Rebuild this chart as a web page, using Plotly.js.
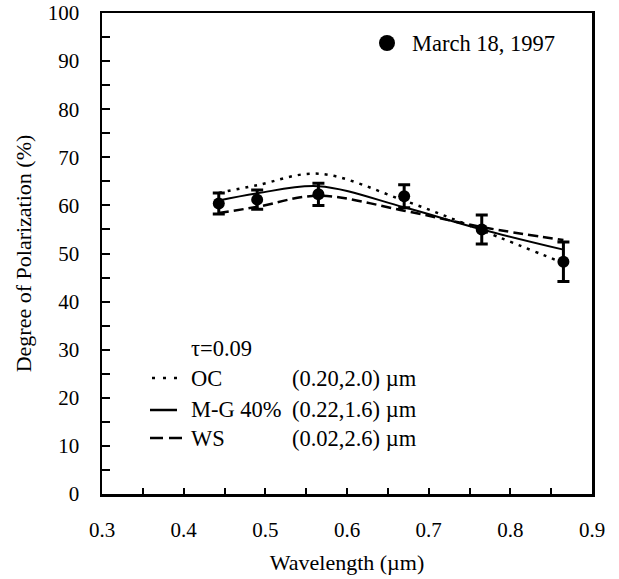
<!DOCTYPE html>
<html>
<head>
<meta charset="utf-8">
<script src="https://cdn.plot.ly/plotly-3.0.1.min.js"></script>
<style>html,body{margin:0;padding:0;background:#fff;}#chart{width:619px;height:579px;}</style>
</head>
<body>
<div id="chart"></div>
<script>
// Wavelengths (µm)
const wavelength = [0.443, 0.490, 0.565, 0.670, 0.765, 0.865];
// Measured degree of polarization (%) - March 18, 1997
const measured = [60.4, 61.2, 62.3, 61.9, 55.0, 48.3];
const measuredErr = [2.2, 2.0, 2.3, 2.4, 3.0, 4.1];
// Model curves (%)
const modelOC = [62.6, 64.2, 66.6, 61.0, 54.8, 48.0];
const modelMG = [61.0, 62.5, 64.0, 59.6, 55.0, 50.8];
const modelWS = [58.4, 59.7, 62.0, 58.9, 55.5, 52.8];
const xTicks = [0.3, 0.4, 0.5, 0.6, 0.7, 0.8, 0.9];
const yTicks = [0, 10, 20, 30, 40, 50, 60, 70, 80, 90, 100];

const FONT = "Liberation Serif";
const L = 102, R = 592, T = 13, B = 494;
const px = x => (x - L) / (R - L);
const py = y => (B - y) / (B - T);

const traces = [
  {x: wavelength, y: modelOC, mode: 'lines', line: {color: '#000', width: 2.5, dash: '3px,6px', shape: 'spline', smoothing: 1}},
  {x: wavelength, y: modelMG, mode: 'lines', line: {color: '#000', width: 2, shape: 'spline', smoothing: 1}},
  {x: wavelength, y: modelWS, mode: 'lines', line: {color: '#000', width: 2.5, dash: '10px,5px', shape: 'spline', smoothing: 1}},
  {x: wavelength, y: measured, mode: 'markers', marker: {color: '#000', size: 12},
   error_y: {type: 'data', array: measuredErr, visible: true, color: '#000', thickness: 3, width: 6}}
];

const textFont = {family: FONT, size: 22.5, color: '#000'};
function ann(text, x, y) {
  return {text: text, xref: 'paper', yref: 'paper', x: px(x), y: py(y), xanchor: 'left', yanchor: 'middle', showarrow: false, font: textFont};
}
const annotations = [
  ann('March 18, 1997', 410, 44),
  ann('τ=0.09', 189, 348),
  ann('OC', 189, 379),
  ann('(0.20,2.0) µm', 290, 379),
  ann('M-G 40%', 189, 409),
  ann('(0.22,1.6) µm', 290, 409),
  ann('WS', 189, 438),
  ann('(0.02,2.6) µm', 290, 438)
];
const shapes = [
  {type: 'circle', xref: 'paper', yref: 'paper', xsizemode: 'pixel', ysizemode: 'pixel',
   xanchor: px(387), yanchor: py(43), x0: -8, x1: 8, y0: -8, y1: 8, fillcolor: '#000', line: {width: 0}},
  {type: 'line', xref: 'paper', yref: 'paper', x0: px(152), x1: px(178), y0: py(378), y1: py(378), line: {color: '#000', width: 2.5, dash: '3px,8px'}},
  {type: 'line', xref: 'paper', yref: 'paper', x0: px(150), x1: px(177), y0: py(410), y1: py(410), line: {color: '#000', width: 2.5}},
  {type: 'line', xref: 'paper', yref: 'paper', x0: px(150), x1: px(182), y0: py(438), y1: py(438), line: {color: '#000', width: 2.5, dash: '13px,6px'}}
];

const layout = {
  width: 619, height: 579,
  margin: {l: L, r: 619 - R, t: T, b: 579 - B},
  paper_bgcolor: '#fff', plot_bgcolor: '#fff',
  showlegend: false,
  font: {family: FONT, color: '#000', size: 21},
  xaxis: {
    range: [0.3, 0.9], tickvals: xTicks, ticktext: xTicks.map(v => v.toFixed(1)),
    ticks: 'inside', ticklen: 6, tickwidth: 2, tickcolor: '#000',
    minor: {dtick: 0.05, tick0: 0.3, ticks: 'inside', ticklen: 6, tickwidth: 2, tickcolor: '#000'},
    showline: true, linewidth: 2.5, linecolor: '#000', mirror: true,
    showgrid: false, zeroline: false,
    tickfont: {family: FONT, size: 21, color: '#000'}, ticklabelstandoff: 15,
    title: {text: 'Wavelength (µm)', font: {family: FONT, size: 22, color: '#000'}, standoff: 14}
  },
  yaxis: {
    range: [0, 100], tickvals: yTicks,
    ticks: 'inside', ticklen: 8, tickwidth: 2, tickcolor: '#000',
    minor: {dtick: 5, tick0: 0, ticks: 'inside', ticklen: 8, tickwidth: 2, tickcolor: '#000'},
    showline: true, linewidth: 2.5, linecolor: '#000', mirror: true,
    showgrid: false, zeroline: false,
    tickfont: {family: FONT, size: 21, color: '#000'}, ticklabelstandoff: 16,
    title: {text: 'Degree of Polarization (%)', font: {family: FONT, size: 22, color: '#000'}, standoff: 10}
  },
  annotations: annotations,
  shapes: shapes
};

Plotly.newPlot('chart', traces, layout, {staticPlot: true, displayModeBar: false});
</script>
</body>
</html>
